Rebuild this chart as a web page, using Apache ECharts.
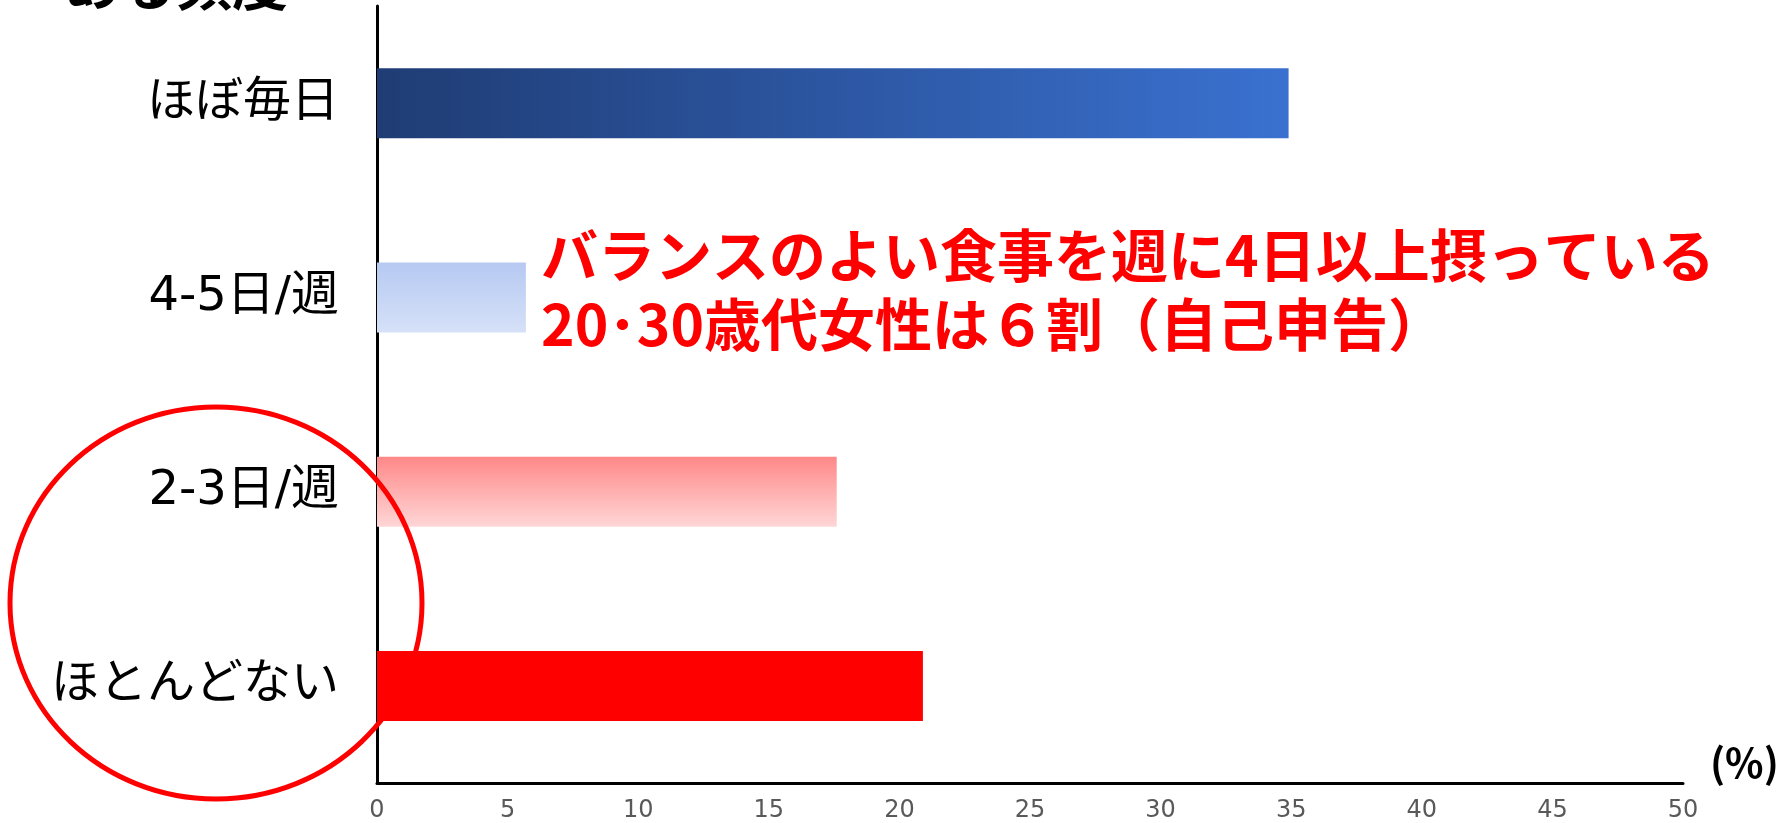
<!DOCTYPE html>
<html>
<head>
<meta charset="utf-8">
<script src="https://cdn.jsdelivr.net/npm/echarts@6/dist/echarts.min.js"></script>
<style>
  html, body { margin: 0; padding: 0; background: #fff; }
  #chart { width: 1787px; height: 823px; }
</style>
</head>
<body>
<div id="chart"></div>
<script>
// Frequency of eating balanced meals (20s-30s women), share in %
const categories = ['ほぼ毎日', '4-5日/週', '2-3日/週', 'ほとんどない'];
const values = [34.9, 5.7, 17.6, 20.9];
const xTicks = [0, 5, 10, 15, 20, 25, 30, 35, 40, 45, 50];
const headingText = 'ある頻度';
const noteLines = ['バランスのよい食事を週に4日以上摂っている', '20･30歳代女性は６割（自己申告）'];
const unitLabel = '(%)';

const JP = '"Noto Sans CJK JP", "Noto Sans", sans-serif';
const LABEL_FONT = '"DejaVu Sans", "Noto Sans CJK JP", sans-serif';

// Fill for each bar, in category order
const barFills = [
  new echarts.graphic.LinearGradient(0, 0, 1, 0, [
    { offset: 0, color: '#1F3C74' },
    { offset: 1, color: '#3A71D0' }
  ]),
  new echarts.graphic.LinearGradient(0, 0, 0, 1, [
    { offset: 0, color: '#B6C9F2' },
    { offset: 1, color: '#D6E1F8' }
  ]),
  new echarts.graphic.LinearGradient(0, 0, 0, 1, [
    { offset: 0, color: '#FF8888' },
    { offset: 1, color: '#FFD6D6' }
  ]),
  '#FF0000'
];

const chart = echarts.init(document.getElementById('chart'), null, { renderer: 'canvas' });

chart.setOption({
  backgroundColor: '#ffffff',
  animation: false,
  grid: { left: 377, right: 104, top: 6, bottom: 39, containLabel: false },
  xAxis: {
    type: 'value',
    min: xTicks[0],
    max: xTicks[xTicks.length - 1],
    interval: xTicks[1] - xTicks[0],
    name: unitLabel,
    nameLocation: 'end',
    nameGap: 27,
    nameTextStyle: {
      color: '#000', fontSize: 40, fontFamily: JP, fontWeight: 'bold',
      verticalAlign: 'bottom', padding: [0, 0, 0, 0]
    },
    axisLine: { show: true, lineStyle: { color: '#000', width: 3 } },
    axisTick: { show: false },
    splitLine: { show: false },
    axisLabel: { color: '#595959', fontSize: 24, fontFamily: '"DejaVu Sans", sans-serif', margin: 16 }
  },
  yAxis: {
    type: 'category',
    data: categories,
    inverse: true,
    axisLine: { show: true, lineStyle: { color: '#000', width: 3 } },
    axisTick: { show: false },
    axisLabel: { color: '#000', fontSize: 48, fontFamily: LABEL_FONT, margin: 38 }
  },
  series: [{
    type: 'bar',
    barWidth: 70,
    data: values.map((v, i) => ({ value: v, itemStyle: { color: barFills[i] } }))
  }],
  graphic: [
    {
      type: 'text',
      left: 64,
      top: -44,
      style: {
        text: headingText,
        fill: '#000',
        font: 'bold 56px ' + JP
      }
    },
    {
      type: 'text',
      left: 541,
      top: 221,
      style: {
        text: noteLines.join('\n'),
        fill: '#FF0000',
        font: 'bold 57px ' + JP,
        lineHeight: 69
      }
    },
    {
      type: 'ellipse',
      shape: { cx: 216, cy: 603, rx: 206, ry: 196 },
      style: { fill: 'none', stroke: '#FF0000', lineWidth: 5 },
      z: 100
    }
  ]
});
</script>
</body>
</html>
